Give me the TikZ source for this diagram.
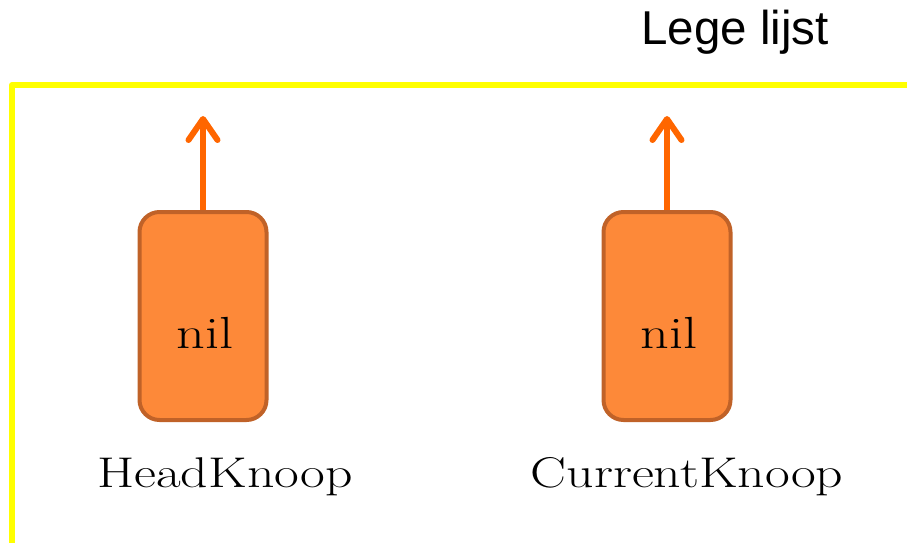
\documentclass[tikz,border=0pt]{standalone}
\usepackage{fontspec}
\newfontfamily\arialfont{Liberation Sans}
\usetikzlibrary{arrows.meta}
\definecolor{boxfill}{RGB}{253,137,57}
\definecolor{boxedge}{RGB}{192,98,40}
\definecolor{arrowc}{RGB}{255,102,0}
\definecolor{frameyellow}{RGB}{255,255,0}
\begin{document}
\begin{tikzpicture}[x=1pt,y=-1pt,
  knoop/.style={draw=boxedge,fill=boxfill,line width=4pt,rounded corners=20pt,minimum width=127pt,minimum height=208pt,inner sep=0pt},
  ptr/.style={draw=arrowc,line width=6pt,-{Straight Barb[length=21pt,width=29pt,line width=6pt,line cap=round,round]}},
  serif/.style={font=\fontsize{43}{50}\selectfont,xscale=1.25,anchor=base,inner sep=0pt},
  nilstyle/.style={font=\fontsize{45}{52}\selectfont,xscale=1.25,anchor=base,inner sep=0pt},
  frame/.style={draw=frameyellow,line width=6pt,line join=round}]
\useasboundingbox (0,0) rectangle (907,543);
\draw[frame] (12,543) -- (12,85) -- (907,85);
\node[anchor=base west,inner sep=0pt,font=\arialfont\fontsize{47.5}{55}\selectfont] (title) at (641,45) {Lege lijst};
\node[knoop] (head) at (203,316) {};
\node[knoop] (cur) at (667,316) {};
\node[nilstyle] (nil1) at (205,348) {nil};
\node[nilstyle] (nil2) at (669,348) {nil};
\node[serif] (lh) at (225,487) {HeadKnoop};
\node[serif] (lc) at (687,487) {CurrentKnoop};
\coordinate (ht) at (203,116);
\coordinate (ct) at (667,116);
\draw[ptr] (head.north) -- (ht);
\draw[ptr] (cur.north) -- (ct);
\end{tikzpicture}
\end{document}
